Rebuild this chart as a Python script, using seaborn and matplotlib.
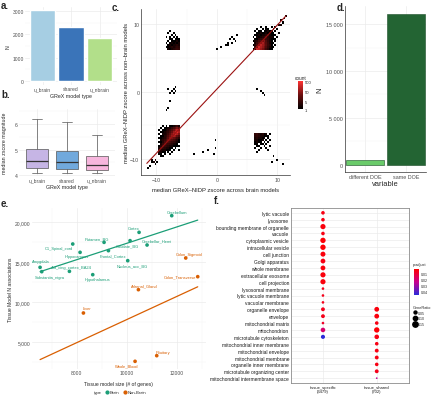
import numpy as np
import pandas as pd
import matplotlib
matplotlib.use('Agg')
import matplotlib.pyplot as plt
import seaborn as sns
from matplotlib.colors import LinearSegmentedColormap, Normalize
from matplotlib.lines import Line2D
from matplotlib.ticker import AutoMinorLocator, FuncFormatter, NullLocator

# ---- a. number of models per GReX type
model_types = ['u_brain', 'shared', 'u_nbrain']
model_n = [3030, 2330, 1830]

# ---- b. median zscore magnitude (five number summaries)
box_lo = [4.08, 4.08, 4.06]
box_q1 = [4.26, 4.22, 4.2]
box_med = [4.53, 4.51, 4.39]
box_q3 = [5.03, 4.96, 4.74]
box_hi = [6.2, 6.08, 5.55]

# ---- c. binned counts (bin width 0.3), rows top -> bottom
bw = 0.3
tr_origin = (5.8, 9.7)      # x of first column, y of top row edge
tr_counts = [
    [0, 0, 0, 0, 1, 0, 0, 1, 0, 0, 1, 0, 1, 0, 0],
    [0, 0, 1, 0, 0, 1, 0, 1, 1, 0, 0, 1, 0, 1, 0],
    [0, 1, 0, 1, 1, 0, 1, 1, 2, 1, 1, 0, 1, 0, 0],
    [0, 0, 1, 1, 2, 1, 1, 2, 1, 3, 1, 1, 0, 0, 1],
    [0, 1, 1, 2, 1, 2, 2, 3, 5, 2, 1, 1, 1, 0, 0],
    [1, 0, 2, 1, 2, 3, 4, 8, 3, 2, 2, 1, 0, 1, 0],
    [0, 1, 1, 3, 4, 6, 15, 6, 4, 2, 1, 1, 1, 0, 0],
    [1, 2, 3, 8, 12, 25, 40, 10, 4, 2, 1, 0, 1, 0, 0],
    [0, 2, 6, 15, 40, 80, 30, 12, 5, 2, 1, 1, 0, 0, 0],
    [1, 3, 10, 50, 120, 60, 35, 14, 5, 3, 1, 0, 1, 0, 0],
    [0, 4, 30, 200, 90, 50, 25, 10, 4, 2, 1, 1, 0, 0, 0],
    [1, 2, 150, 120, 60, 30, 15, 6, 3, 1, 1, 0, 0, 0, 0],
]
bl_origin = (-9.8, -4.9)
bl_counts = [
    [0, 0, 1, 0, 1, 0, 1, 1, 2, 3, 5, 2],
    [0, 1, 0, 1, 1, 2, 2, 4, 8, 15, 30, 10],
    [1, 0, 1, 1, 2, 3, 5, 10, 25, 60, 120, 40],
    [0, 1, 1, 2, 3, 4, 8, 20, 60, 150, 300, 80],
    [1, 0, 2, 2, 3, 6, 14, 40, 100, 200, 90, 30],
    [0, 1, 1, 3, 4, 10, 25, 60, 80, 50, 20, 8],
    [1, 1, 2, 3, 6, 15, 40, 30, 20, 12, 6, 3],
    [0, 2, 3, 5, 10, 25, 20, 12, 8, 5, 3, 1],
    [1, 1, 3, 8, 15, 10, 8, 5, 4, 3, 2, 1],
    [0, 2, 5, 10, 6, 5, 4, 3, 2, 2, 1, 0],
    [1, 3, 8, 5, 4, 3, 2, 2, 1, 1, 1, 1],
    [2, 6, 4, 3, 2, 2, 1, 1, 0, 1, 0, 0],
    [3, 3, 2, 2, 1, 1, 1, 0, 1, 0, 0, 1],
    [2, 2, 1, 1, 0, 1, 0, 1, 0, 0, 0, 0],
    [1, 1, 0, 1, 0, 0, 1, 0, 0, 0, 0, 0],
    [0, 1, 1, 0, 0, 0, 0, 0, 0, 0, 0, 0],
]
tl_origin = (-8.6, 9.2)
tl_counts = [
    [0, 0, 1, 0, 0, 0, 0, 0],
    [0, 1, 0, 0, 1, 0, 0, 0],
    [0, 0, 0, 1, 0, 1, 0, 0],
    [1, 0, 1, 0, 1, 0, 1, 0],
    [0, 0, 1, 1, 0, 1, 1, 1],
    [0, 1, 0, 1, 1, 1, 2, 1],
    [1, 0, 1, 2, 1, 2, 1, 2],
    [0, 1, 2, 1, 2, 2, 3, 2],
    [1, 1, 2, 3, 2, 3, 4, 3],
    [0, 2, 1, 2, 3, 4, 5, 4],
]
br_origin = (6.2, -6.2)
br_counts = [
    [4, 5, 3, 2, 3, 1, 2, 0, 1],
    [3, 4, 3, 2, 2, 1, 1, 1, 0],
    [2, 3, 2, 2, 1, 2, 0, 1, 0],
    [2, 2, 1, 1, 2, 0, 1, 0, 1],
    [1, 2, 1, 1, 0, 1, 0, 1, 0],
    [1, 1, 0, 1, 1, 0, 1, 0, 0],
    [0, 1, 1, 0, 0, 1, 0, 0, 1],
    [1, 0, 0, 1, 0, 0, 1, 0, 0],
    [0, 0, 1, 0, 0, 0, 0, 1, 0],
    [0, 1, 0, 0, 0, 0, 0, 0, 0],
]
stray_x = [-8.0, -7.5, -7.0, -6.8, -7.6, -7.8, -7.9, -8.3, -7.2, -6.9,
           0.0, 0.8, 1.8, 2.2, 2.6, 2.9, 3.1, 2.0, 2.4, 3.3, 1.5,
           -3.8, -2.3, -1.5, -0.2, -0.2, -0.4,
           6.8, 7.2, 7.5, 7.8, 9.5, 10.1, 10.8, 9.0,
           10.4, 10.6, 10.5, 10.9, 11.1, 10.7, 11.3, 11.4,
           -10.1, -10.4, -10.7, -11.0, -10.2, -10.6, -11.4, -9.9]
stray_y = [0.3, 0.0, 0.5, 0.2, -0.3, -1.5, -2.2, -2.7, -0.1, 0.6,
           6.3, 6.6, 7.4, 7.8, 7.2, 8.0, 7.6, 7.0, 8.3, 8.4, 6.9,
           -9.1, -8.9, -8.6, -8.3, -7.0, -9.1,
           0.5, 0.1, -0.3, -0.6, -9.6, -10.0, -10.6, -10.3,
           9.9, 10.1, 10.5, 10.4, 10.9, 10.6, 11.0, 11.3,
           -10.0, -10.3, -10.5, -10.9, -10.6, -10.1, -11.2, -10.4]
stray_n = [1] * 35 + [2, 2, 1, 1, 1, 1, 1, 1] + [3, 2, 1, 1, 1, 1, 1, 1]
fit_x = [-11.6, 11.4]
fit_slope, fit_icpt = 0.95, 0.4

# ---- d. DOE agreement
doe_cat = ['different DOE', 'same DOE']
doe_n = [520, 16100]

# ---- e. tissue models
tissues = ['Cerebellum', 'Cortex', 'Cerebellar_Hemi', 'Putamen_BG', 'Caudate_BG',
           'C1_Spinal_cord', 'Hippocampus', 'Frontal_Cortex', 'Nucleus_acc_BG',
           'Amygdala', 'Ant_cing_cortex_BA24', 'Substantia_nigra', 'Hypothalamus',
           'Colon_Sigmoid', 'Colon_Transverse', 'Adrenal_Gland', 'Liver',
           'Pituitary', 'Whole_Blood']
tissue_type = ['Brain'] * 13 + ['Non-Brain'] * 6
tissue_genes = [11800, 10493, 10813, 9093, 10133, 7840, 8133, 9267, 10040,
                6533, 7707, 6600, 8640, 12360, 12840, 10467, 8267, 11200, 10333]
tissue_assoc = [20833, 18750, 17167, 17500, 17708, 17292, 16250, 16458, 15208,
                14375, 13875, 13833, 13458, 15542, 13208, 11583, 8667, 3333, 2625]
# label offsets in pixels (style)
lab_dx = [5, -5, 10, -7, -3, -14, -3, 4, 5, 1, 2, 8, 5, 3, -18, 6, 4, 6, -8]
lab_dy = [4, 4, 5, 4, -5, -4, -4, -5, -5, 6, 4, -5, -4, 4, 0, 4, 5, 4, -4]

# ---- f. GO enrichment
go_terms = ['lytic vacuole', 'lysosome', 'bounding membrane of organelle', 'vacuole',
            'cytoplasmic vesicle', 'intracellular vesicle', 'cell junction',
            'Golgi apparatus', 'whole membrane', 'extracellular exosome',
            'cell projection', 'lysosomal membrane', 'lytic vacuole membrane',
            'vacuolar membrane', 'organelle envelope', 'envelope',
            'mitochondrial matrix', 'mitochondrion', 'microtubule cytoskeleton',
            'mitochondrial inner membrane', 'mitochondrial envelope',
            'mitochondrial membrane', 'organelle inner membrane',
            'microtubule organizing center', 'mitochondrial intermembrane space']
spec_ratio = [0.07, 0.07, 0.14, 0.07, 0.15, 0.15, 0.13, 0.12, 0.12, 0.14, 0.14,
              0.04, 0.04, 0.04, 0.08, 0.08, 0.04, 0.11, 0.09]
spec_padj = [0.005, 0.005, 0.004, 0.005, 0.003, 0.003, 0.004, 0.005, 0.004, 0.004,
             0.004, 0.006, 0.006, 0.006, 0.006, 0.006, 0.008, 0.018, 0.045]
shared_terms = go_terms[14:]
shared_ratio = [0.12, 0.12, 0.07, 0.15, 0.11, 0.07, 0.08, 0.08, 0.07, 0.08, 0.02]
shared_padj = [0.004, 0.004, 0.005, 0.003, 0.005, 0.005, 0.005, 0.005, 0.005, 0.006, 0.025]
clusters = ['tissue_specific\n(3479)', 'tissue_shared\n(702)']

W, H = 440, 402
sns.set_theme(style='whitegrid')
plt.rcParams['font.family'] = ['Liberation Sans', 'DejaVu Sans']
plt.rcParams.update({'grid.color': '#EBEBEB', 'grid.linewidth': 0.5,
                     'xtick.major.size': 0, 'ytick.major.size': 0,
                     'xtick.major.pad': 1.2, 'ytick.major.pad': 1.2,
                     'axes.labelpad': 1.2})
fig = plt.figure(figsize=(W / 100, H / 100), dpi=100)


def place(l, t, r, b):
    return fig.add_axes([l / W, 1 - b / H, (r - l) / W, (b - t) / H])


def minimal(ax, fs=3.6):
    for s in ax.spines.values():
        s.set_visible(False)
    ax.tick_params(labelsize=fs, colors='#4D4D4D', length=0)
    ax.grid(True, which='major', color='#EBEBEB', lw=0.5)
    ax.set_facecolor('white')


def tag(x, y, s):
    fig.text(x / W, 1 - y / H, s, fontsize=7, fontweight='bold', va='top', ha='left')


# ---------------- a
ax = place(25.4, 7.8, 116.6, 85.5)
df_a = pd.DataFrame({'type': model_types, 'N': model_n})
sns.barplot(data=df_a, x='type', y='N', hue='type',
            palette=['#A6CEE3', '#3A74B9', '#B2DF8A'], width=0.88,
            saturation=1, legend=False, ax=ax)
minimal(ax)
ax.set_ylim(-150, 3180)
ax.set_xlim(-0.6, 2.6)
ax.set_yticks([0, 1000, 2000, 3000])
ax.yaxis.set_minor_locator(AutoMinorLocator(2))
ax.grid(True, which='minor', axis='y', color='#F3F3F3', lw=0.3)
ax.set_xlabel('GReX model type', fontsize=3.8)
ax.set_ylabel('N', fontsize=3.8)
tag(1, 1, 'a.')

# ---------------- b
ax = place(19, 110, 115, 177)
df_b = pd.DataFrame({
    'type': np.repeat(model_types, 5),
    'z': np.ravel(np.column_stack([box_lo, box_q1, box_med, box_q3, box_hi])),
})
sns.boxplot(data=df_b, x='type', y='z', hue='type',
            palette=['#C6B5E5', '#71A9DC', '#F7B6DD'], width=0.72, whis=(0, 100),
            saturation=1, legend=False, linewidth=0.5, linecolor='#555555',
            medianprops={'color': '#333333', 'lw': 0.9}, ax=ax)
minimal(ax)
ax.set_xlim(-0.6, 2.6)
ax.set_ylim(3.96, 6.59)
ax.set_yticks([4, 5, 6])
ax.yaxis.set_minor_locator(AutoMinorLocator(2))
ax.grid(True, which='minor', axis='y', color='#F3F3F3', lw=0.3)
ax.set_xlabel('GReX model type', fontsize=3.8)
ax.set_ylabel('median zscore magnitude', fontsize=3.8)
tag(1, 90, 'b.')

# ---------------- c
def cells(origin, counts):
    xs, ys, ns = [], [], []
    for i, row in enumerate(counts):
        for j, n in enumerate(row):
            if n > 0:
                xs.append(origin[0] + (j + 0.5) * bw)
                ys.append(origin[1] - (i + 0.5) * bw)
                ns.append(n)
    return xs, ys, ns


cx, cy, cn = list(stray_x), list(stray_y), list(stray_n)
for o, m in [(tr_origin, tr_counts), (bl_origin, bl_counts),
             (tl_origin, tl_counts), (br_origin, br_counts)]:
    a_, b_, c_ = cells(o, m)
    cx += a_
    cy += b_
    cn += c_

ax = place(141, 10, 290, 176)
cax = place(297.5, 82, 303, 110)
cmap_c = LinearSegmentedColormap.from_list('blkred', ['#000000', '#6B0F0F', '#FF3333'])
sns.histplot(x=cx, y=cy, weights=cn, binwidth=bw, binrange=((-12.4, 12.2), (-12.4, 12.2)),
             cmap=cmap_c, norm='log', vmin=1, vmax=500, cbar=True, cbar_ax=cax, ax=ax)
lx = np.array(fit_x)
ax.plot(lx, fit_slope * lx + fit_icpt, color='#9B1111', lw=0.8)
minimal(ax, 3.8)
ax.spines['left'].set_visible(True)
ax.spines['bottom'].set_visible(True)
for s in ('left', 'bottom'):
    ax.spines[s].set_color('#333333')
    ax.spines[s].set_linewidth(0.5)
ax.set_xlim(-12.56, 12.07)
ax.set_ylim(-12.34, 12.25)
ax.set_xticks([-10, 0, 10])
ax.set_yticks([-10, 0, 10])
ax.xaxis.set_minor_locator(AutoMinorLocator(2))
ax.yaxis.set_minor_locator(AutoMinorLocator(2))
ax.grid(True, which='minor', color='#F3F3F3', lw=0.3)
ax.set_xlabel('median GReX\u2013NIDP zscore across brain models', fontsize=4.2)
ax.set_ylabel('median GReX\u2013NIDP zscore across non\u2013brain models', fontsize=4.2)
cax.yaxis.set_minor_locator(NullLocator())
cax.set_yticks([1, 5, 50, 500])
cax.set_yticklabels(['1', '5', '50', '500'])
cax.tick_params(which='both', labelsize=3, length=0, pad=1)
for s in cax.spines.values():
    s.set_visible(False)
cax.set_title('count', fontsize=3.4, pad=1.5)
tag(112, 3, 'c.')

# ---------------- d
ax = place(345, 7, 426, 173)
df_d = pd.DataFrame({'variable': doe_cat, 'N': doe_n})
sns.barplot(data=df_d, x='variable', y='N', hue='variable',
            palette=['#6ACB6A', '#236433'], width=0.94, saturation=1, legend=False,
            edgecolor='#1B4D27', linewidth=0.4, ax=ax)
minimal(ax, 3.9)
ax.spines['left'].set_visible(True)
ax.spines['bottom'].set_visible(True)
for s in ('left', 'bottom'):
    ax.spines[s].set_color('#333333')
    ax.spines[s].set_linewidth(0.5)
ax.set_xlim(-0.5, 1.5)
ax.set_ylim(-745, 16915)
ax.set_yticks([0, 5000, 10000, 15000])
ax.yaxis.set_major_formatter(FuncFormatter(lambda v, p: f'{int(v):,}'.replace(',', ' ')))
ax.yaxis.set_minor_locator(AutoMinorLocator(2))
ax.grid(True, which='minor', axis='y', color='#F3F3F3', lw=0.3)
ax.set_xlabel('variable', fontsize=5.4)
ax.set_ylabel('N', fontsize=5.4, labelpad=2)
tag(337, 3, 'd.')

# ---------------- e
ax = place(32.2, 209.4, 205.6, 369.6)
df_e = pd.DataFrame({'tissue': tissues, 'type': tissue_type,
                     'genes': tissue_genes, 'assoc': tissue_assoc})
pal_e = {'Brain': '#1B9E77', 'Non-Brain': '#D95F02'}
ax.set_xlim(min(tissue_genes), max(tissue_genes))
for t in ['Brain', 'Non-Brain']:
    sub = df_e[df_e['type'] == t]
    sns.regplot(data=sub, x='genes', y='assoc', ci=None, truncate=False,
                scatter=False, color=pal_e[t], line_kws={'lw': 0.9}, ax=ax)
sns.scatterplot(data=df_e, x='genes', y='assoc', hue='type', palette=pal_e,
                s=7, linewidth=0, legend=False, ax=ax)
for i, r in df_e.iterrows():
    ax.annotate(r['tissue'], (r['genes'], r['assoc']), xytext=(lab_dx[i], lab_dy[i]),
                textcoords='offset pixels', ha='center', va='center',
                fontsize=2.9, color=pal_e[r['type']])
minimal(ax, 3.6)
ax.set_xlim(6218, 13155)
ax.set_ylim(1715, 21743)
ax.set_xticks([8000, 10000, 12000])
ax.set_yticks([5000, 10000, 15000, 20000])
ax.yaxis.set_major_formatter(FuncFormatter(lambda v, p: f'{int(v):,}'))
ax.xaxis.set_minor_locator(AutoMinorLocator(2))
ax.yaxis.set_minor_locator(AutoMinorLocator(2))
ax.grid(True, which='minor', color='#F3F3F3', lw=0.3)
ax.set_xlabel('Tissue model size (# of genes)', fontsize=3.6)
ax.set_ylabel('Tissue Model N associations', fontsize=3.6)
handles = [Line2D([], [], ls='none', marker='')] + [
    Line2D([], [], ls='none', marker='o', ms=2, color=pal_e[t]) for t in ['Brain', 'Non-Brain']]
fig.legend(handles, ['type', 'Brain', 'Non-Brain'], ncol=3, frameon=False,
           loc='center', bbox_to_anchor=(118 / W, 1 - 393 / H), fontsize=3,
           handlelength=0.8, handletextpad=0.3, columnspacing=0.8)
tag(1, 199, 'e.')

# ---------------- f
df_f = pd.DataFrame({
    'term': go_terms[:19] + shared_terms,
    'cluster': [clusters[0]] * 19 + [clusters[1]] * 11,
    'GeneRatio': spec_ratio + shared_ratio,
    'p.adjust': spec_padj + shared_padj,
})
ax = place(290.7, 209, 409, 384)
cmap_f = LinearSegmentedColormap.from_list('rb', ['#FF0000', '#C8008E', '#2B2BD9'])
norm_f = Normalize(0.002, 0.045)
sns.scatterplot(data=df_f, x='cluster', y='term', hue='p.adjust', palette=cmap_f,
                hue_norm=norm_f, size='GeneRatio', sizes=(1.5, 16), size_norm=(0.02, 0.16),
                linewidth=0, legend=False, ax=ax)
ax.set_facecolor('white')
ax.grid(True, color='#EBEBEB', lw=0.5)
for s in ax.spines.values():
    s.set_visible(True)
    s.set_color('#8C8C8C')
    s.set_linewidth(0.6)
ax.set_xlim(-0.6, 1.6)
ax.set_ylim(24.7, -0.7)
ax.tick_params(axis='y', labelsize=3.5, colors='#1A1A1A', length=0)
ax.tick_params(axis='x', labelsize=3.0, colors='#1A1A1A', length=0)
ax.set_xlabel('')
ax.set_ylabel('')

cax2 = place(414, 270, 419, 296)
sm = plt.cm.ScalarMappable(cmap=cmap_f, norm=norm_f)
cb = fig.colorbar(sm, cax=cax2, ticks=[0.01, 0.02, 0.03, 0.04])
cb.outline.set_visible(False)
cax2.invert_yaxis()
cax2.tick_params(labelsize=2.6, length=0, pad=1)
fig.text(413 / W, 1 - 267 / H, 'p.adjust', fontsize=2.8, va='bottom')
size_vals = [0.05, 0.10, 0.15]
size_h = [Line2D([], [], ls='none', marker='o', color='black',
                 ms=np.sqrt(1.5 + (v - 0.02) / 0.14 * 14.5)) for v in size_vals]
fig.text(413 / W, 1 - 310 / H, 'GeneRatio', fontsize=2.8, va='bottom')
fig.legend(size_h, ['0.05', '0.10', '0.15'], frameon=False, loc='upper left',
           bbox_to_anchor=(411 / W, 1 - 309 / H), fontsize=2.6, handlelength=0.8,
           handletextpad=0.3, labelspacing=0.5, borderpad=0.2)
tag(214, 196, 'f.')

fig.savefig('out.png', dpi=100)
